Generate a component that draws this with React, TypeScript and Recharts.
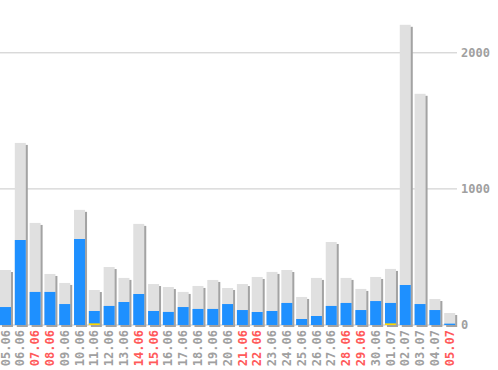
import React from "react";
import { BarChart, Bar, XAxis, YAxis, CartesianGrid } from "recharts";

const days = [
  "05.06", "06.06", "07.06", "08.06", "09.06", "10.06", "11.06", "12.06", "13.06", "14.06",
  "15.06", "16.06", "17.06", "18.06", "19.06", "20.06", "21.06", "22.06", "23.06", "24.06",
  "25.06", "26.06", "27.06", "28.06", "29.06", "30.06", "01.07", "02.07", "03.07", "04.07", "05.07",
];
const weekendDays = ["07.06", "08.06", "14.06", "15.06", "21.06", "22.06", "28.06", "29.06", "05.07"];
const totalValues = [
  404, 1338, 750, 375, 309, 846, 257, 426, 346, 743,
  301, 279, 243, 287, 331, 272, 301, 353, 390, 404,
  206, 346, 610, 346, 265, 353, 412, 2206, 1699, 191, 88,
];
const blueValues = [
  132, 625, 243, 243, 154, 632, 103, 140, 169, 228,
  103, 96, 132, 118, 118, 154, 110, 96, 103, 162,
  44, 66, 140, 162, 110, 176, 162, 294, 154, 110, 10,
];
const yellowValues = [
  0, 0, 0, 0, 0, 0, 12, 0, 0, 0,
  0, 0, 0, 0, 0, 0, 0, 0, 0, 0,
  0, 0, 0, 0, 0, 0, 12, 0, 0, 0, 0,
];
const yTicks = [0, 1000, 2000];
const yMax = 2300;

const data = days.map((d, i) => ({
  name: d,
  total: totalValues[i],
  blue: blueValues[i],
  yellow: yellowValues[i],
}));

const FONT = "'DejaVu Sans Mono', monospace";

const ShadowBar = (props: any) => {
  const { x, y, width, height } = props;
  if (!height || height <= 0) return null;
  return (
    <g>
      <rect x={x + 2} y={y + 2} width={width} height={height} fill="#a3a3a3" />
      <rect x={x} y={y} width={width} height={height} fill="#e0e0e0" />
    </g>
  );
};

const XTick = (props: any) => {
  const { x, payload } = props;
  const red = weekendDays.includes(payload.value);
  return (
    <g transform={`translate(${x},330) rotate(-90)`}>
      <text
        x={0}
        y={0}
        dy="0.35em"
        textAnchor="end"
        fill={red ? "#ff5a5a" : "#a0a0a0"}
        fontFamily={FONT}
        fontWeight="bold"
        fontSize={12}
      >
        {payload.value}
      </text>
    </g>
  );
};

const YTick = (props: any) => {
  const { x, y, payload } = props;
  return (
    <text
      x={x - 4}
      y={y}
      dy="0.35em"
      textAnchor="start"
      fill="#a0a0a0"
      fontFamily={FONT}
      fontWeight="bold"
      fontSize={12}
    >
      {payload.value}
    </text>
  );
};

const gridGen = (args: any) => {
  const off = args.offset;
  return yTicks.map((t) => off.top + off.height * (1 - t / yMax));
};

export default function App() {
  return (
    <div style={{ position: "fixed", left: 0, top: 0, width: 498, height: 370, background: "#fff" }}>
      <BarChart
        width={498}
        height={370}
        data={data}
        margin={{ top: 12, right: 0, bottom: 0, left: -2 }}
        barSize={11}
        barGap={-11}
        barCategoryGap={0}
      >
        <CartesianGrid
          vertical={false}
          stroke="#c8c8c8"
          strokeWidth={1}
          horizontalCoordinatesGenerator={gridGen}
        />
        <XAxis
          dataKey="name"
          interval={0}
          axisLine={false}
          tickLine={false}
          height={45}
          tick={<XTick />}
        />
        <YAxis
          orientation="right"
          domain={[0, yMax]}
          ticks={yTicks}
          axisLine={false}
          tickLine={false}
          width={41}
          tick={<YTick />}
        />
        <Bar dataKey="total" shape={<ShadowBar />} isAnimationActive={false} />
        <Bar dataKey="blue" fill="#1e90ff" isAnimationActive={false} />
        <Bar dataKey="yellow" fill="#ffd700" isAnimationActive={false} />
      </BarChart>
    </div>
  );
}
